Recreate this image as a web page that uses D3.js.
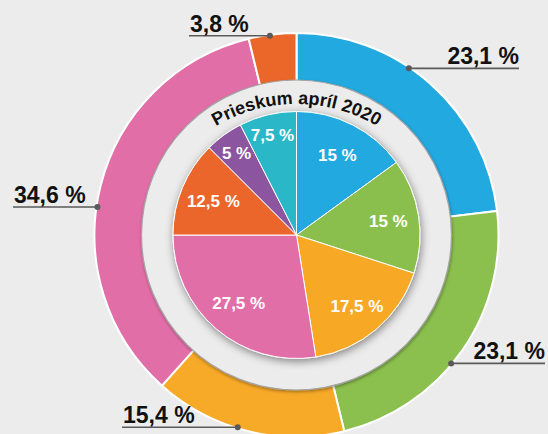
<!DOCTYPE html>
<html><head><meta charset="utf-8">
<script src="https://cdn.jsdelivr.net/npm/d3@7"></script>
<style>
html,body{margin:0;padding:0;background:#ececec;}
svg{display:block;}
</style></head>
<body>
<svg id="chart" width="548" height="434"></svg>
<script>
// ---- data ----
const outerLabels = ["23,1 %", "23,1 %", "15,4 %", "34,6 %", "3,8 %"];
const outerValues = [23.1, 23.1, 15.4, 34.6, 3.8];
const outerColors = ["#22a9e0", "#8bbf4e", "#f7a928", "#e26ea8", "#eb6629"];

const innerLabels = ["15 %", "15 %", "17,5 %", "27,5 %", "12,5 %", "5 %", "7,5 %"];
const innerValues = [15, 15, 17.5, 27.5, 12.5, 5, 7.5];
const innerColors = ["#22a9e0", "#8bbf4e", "#f7a928", "#e26ea8", "#eb6629", "#8c55a0", "#2bb8c8"];

const title = "Prieskum apríl 2020";

// ---- layout ----
const cx = 296.5, cy = 235;
const R_OUT = 202, R_RING_IN = 155, R_BAND = 155, R_PIE = 123.5;
const TITLE_R = 158, TITLE_DY = 27;   // flatter arc for the title
const calloutAngles = [34, 129.7, 197, 278, 352.4];   // degrees clockwise from top
const calloutEndX = [519, 545, 122, 13, 189];
const innerLabelR = [90, 93, 93, 89, 90, 102, 103];
const FONT = "'Liberation Sans', Arial, Helvetica, sans-serif";

const svg = d3.select("#chart");
const defs = svg.append("defs");
const f1 = defs.append("filter").attr("id","pieShadow").attr("x","-30%").attr("y","-30%").attr("width","160%").attr("height","160%");
f1.append("feDropShadow").attr("dx",1).attr("dy",2.5).attr("stdDeviation",4.5).attr("flood-color","#000").attr("flood-opacity",0.45);
const f2 = defs.append("filter").attr("id","bandShadow").attr("x","-30%").attr("y","-30%").attr("width","160%").attr("height","160%");
f2.append("feDropShadow").attr("dx",0.5).attr("dy",1.5).attr("stdDeviation",1.5).attr("flood-color","#000").attr("flood-opacity",0.35);

const g = svg.append("g").attr("transform",`translate(${cx},${cy})`);

const pie = d3.pie().sort(null).value(d => d);

// outer ring
const outerArc = d3.arc().innerRadius(R_RING_IN - 4).outerRadius(R_OUT);
g.append("g").selectAll("path").data(pie(outerValues)).join("path")
  .attr("d", outerArc)
  .attr("fill", (d,i) => outerColors[i])
  .attr("stroke", "#fff").attr("stroke-width", 2).attr("stroke-linejoin","miter");

// gray band
g.append("circle").attr("r", R_BAND).attr("fill", "#ececec")
  .attr("stroke", "#a4a4a4").attr("stroke-width", 1.2)
  .attr("filter", "url(#bandShadow)");

// inner pie
const innerArc = d3.arc().innerRadius(0).outerRadius(R_PIE);
const pg = g.append("g").attr("filter","url(#pieShadow)");
pg.selectAll("path").data(pie(innerValues)).join("path")
  .attr("d", innerArc)
  .attr("fill", (d,i) => innerColors[i])
  .attr("stroke", "#fff").attr("stroke-width", 1);

// inner labels
const pieData = pie(innerValues);
g.append("g").selectAll("text").data(pieData).join("text")
  .attr("transform", (d,i) => {
    const a = (d.startAngle + d.endAngle) / 2;
    return `translate(${innerLabelR[i]*Math.sin(a)},${-innerLabelR[i]*Math.cos(a)})`;
  })
  .attr("text-anchor","middle").attr("dy","0.36em")
  .attr("font-family",FONT)
  .attr("font-weight","bold").attr("font-size",17).attr("fill","#fff")
  .text((d,i) => innerLabels[i]);

// title on arc
defs.append("path").attr("id","titleArc")
  .attr("d", `M ${-TITLE_R},0 A ${TITLE_R},${TITLE_R} 0 0 1 ${TITLE_R},0`)
  .attr("transform", `translate(${cx},${cy + TITLE_DY})`);
svg.append("text")
  .attr("font-family",FONT)
  .attr("font-weight","bold").attr("font-size",18).attr("fill","#111")
  .append("textPath").attr("href","#titleArc")
  .attr("startOffset","50%").attr("text-anchor","middle")
  .text(title);

// callouts
const cg = svg.append("g");
outerValues.forEach((v,i) => {
  const a = calloutAngles[i] * Math.PI / 180;
  const px = cx + (R_OUT - 1) * Math.sin(a);
  const py = cy - (R_OUT - 1) * Math.cos(a);
  const ex = calloutEndX[i];
  cg.append("line").attr("x1", px).attr("y1", py).attr("x2", ex).attr("y2", py)
    .attr("stroke","#5a5a5a").attr("stroke-width",1.6);
  cg.append("circle").attr("cx",px).attr("cy",py).attr("r",3).attr("fill","#5a5a5a");
  const right = ex > px;
  cg.append("text").attr("x", right ? ex : ex + 1).attr("y", py - 4)
    .attr("text-anchor", right ? "end" : "start")
    .attr("font-family",FONT)
    .attr("font-weight","bold").attr("font-size",23).attr("fill","#111")
    .text(outerLabels[i]);
});
</script>
</body></html>
